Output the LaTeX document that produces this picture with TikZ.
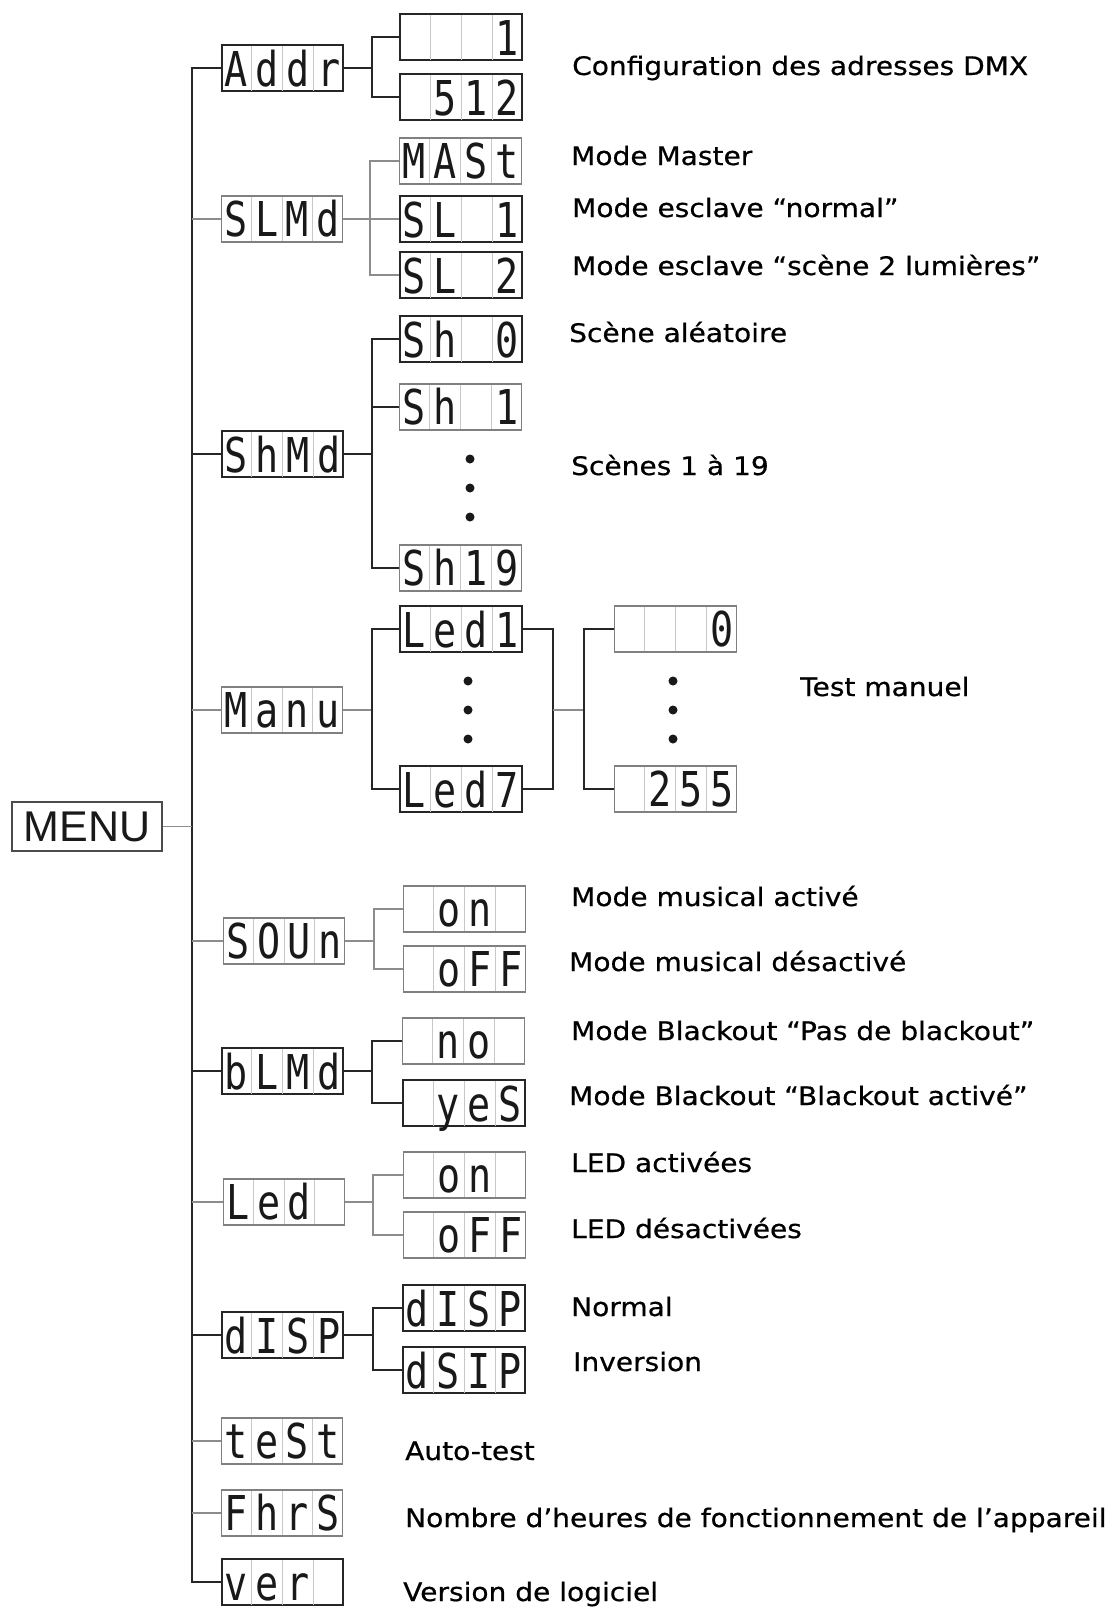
\documentclass[tikz,border=0pt]{standalone}
\usepackage{fontspec}
\newfontfamily\labfont[FakeStretch=1.10,FakeBold=0.6]{DejaVu Sans}
\newfontfamily\lcdfont[FakeStretch=0.8]{DejaVu Sans Mono}
\newfontfamily\menufont{Liberation Sans}
\usetikzlibrary{calc}
\newcommand{\mkdisp}[8]{%
  \node[lcdshape,#2] (#1) at (#3,#4) {};
  \foreach \k in {1,2,3}
    \draw[sepline] ($(#1.north west)!\k/4!(#1.north east)+(0,1.5)$) -- ($(#1.south west)!\k/4!(#1.south east)+(0,-1.5)$);
  \node[lcdtxt] at ($(#1.south west)!0.125!(#1.south east)+(0,-6)$) {#5};
  \node[lcdtxt] at ($(#1.south west)!0.375!(#1.south east)+(0,-6)$) {#6};
  \node[lcdtxt] at ($(#1.south west)!0.625!(#1.south east)+(0,-6)$) {#7};
  \node[lcdtxt] at ($(#1.south west)!0.875!(#1.south east)+(0,-6)$) {#8};
}
\begin{document}
\begin{tikzpicture}[x=1pt,y=-1pt,
  darkline/.style={line width=2.2pt, draw=black!85},
  lightline/.style={line width=1.3pt, draw=black!45},
  darkbox/.style={draw=black!85, line width=2pt},
  lightbox/.style={draw=black!50, line width=1.4pt},
  wone/.style={minimum width=121pt},
  wtwo/.style={minimum width=122pt},
  lcdshape/.style={rectangle, inner sep=0pt, minimum height=46pt, anchor=west},
  sepline/.style={line width=0.8pt, draw=black!22},
  lcdtxt/.style={anchor=base, inner sep=0pt, font=\lcdfont\fontsize{48}{48}\selectfont, text=black!90},
  lab/.style={anchor=base west, inner sep=0pt, font=\labfont\fontsize{25.5}{30}\selectfont, text=black},
  bigdot/.style={circle, fill=black!90, inner sep=0pt, minimum size=9pt}]

\useasboundingbox (0,0) rectangle (1107,1609);
\fill[white] (0,0) rectangle (1107,1609);

% MENU
\node[draw=black!70, line width=1.5pt, minimum width=150pt, minimum height=49pt, inner sep=0pt,
      font=\menufont\fontsize{43}{43}\selectfont, text=black!90] (menu) at (87,826.5) {MENU};

% level 1
\mkdisp{Addr}{darkbox,wone}{221}{68}{A}{d}{d}{r}
\mkdisp{SLMd}{lightbox,wone}{221}{219}{S}{L}{M}{d}
\mkdisp{ShMd}{darkbox,wone}{221}{454}{S}{h}{M}{d}
\mkdisp{Manu}{lightbox,wone}{221}{710}{M}{a}{n}{u}
\mkdisp{SOUn}{lightbox,wone}{223}{941}{S}{O}{U}{n}
\mkdisp{bLMd}{darkbox,wone}{221}{1071}{b}{L}{M}{d}
\mkdisp{Led}{lightbox,wone}{223}{1202}{L}{e}{d}{}
\mkdisp{dISP}{darkbox,wone}{221}{1335}{d}{I}{S}{P}
\mkdisp{tESt}{lightbox,wone}{221}{1441}{t}{e}{S}{t}
\mkdisp{FhrS}{lightbox,wone}{221}{1513}{F}{h}{r}{S}
\mkdisp{ver}{darkbox,wone}{221}{1582}{v}{e}{r}{}

% level 2
\mkdisp{A1}{darkbox,wtwo}{399}{37}{}{}{}{1}
\mkdisp{A512}{darkbox,wtwo}{399}{97}{}{5}{1}{2}
\mkdisp{MASt}{lightbox,wtwo}{399}{161}{M}{A}{S}{t}
\mkdisp{SL1}{darkbox,wtwo}{399}{219}{S}{L}{}{1}
\mkdisp{SL2}{darkbox,wtwo}{399}{275}{S}{L}{}{2}
\mkdisp{Sh0}{darkbox,wtwo}{399}{339}{S}{h}{}{0}
\mkdisp{Sh1}{lightbox,wtwo}{399}{407}{S}{h}{}{1}
\mkdisp{Sh19}{lightbox,wtwo}{399}{568}{S}{h}{1}{9}
\mkdisp{Led1}{darkbox,wtwo}{399}{629}{L}{e}{d}{1}
\mkdisp{Led7}{darkbox,wtwo}{399}{789}{L}{e}{d}{7}
\mkdisp{v0}{lightbox,wtwo}{614}{629}{}{}{}{0}
\mkdisp{v255}{lightbox,wtwo}{614}{789}{}{2}{5}{5}
\mkdisp{son}{lightbox,wtwo}{403}{909}{}{o}{n}{}
\mkdisp{soff}{lightbox,wtwo}{403}{969}{}{o}{F}{F}
\mkdisp{bno}{lightbox,wtwo}{402}{1041}{}{n}{o}{}
\mkdisp{byes}{darkbox,wtwo}{402}{1103}{}{y}{e}{S}
\mkdisp{lon}{lightbox,wtwo}{403}{1175}{}{o}{n}{}
\mkdisp{loff}{lightbox,wtwo}{403}{1235}{}{o}{F}{F}
\mkdisp{dnorm}{darkbox,wtwo}{402}{1308}{d}{I}{S}{P}
\mkdisp{dinv}{darkbox,wtwo}{402}{1370}{d}{S}{I}{P}

% trunk
\coordinate (tTop) at (192,68);
\coordinate (tBot) at (192,1582);
\draw[darkline] (Addr.west) -- (tTop) -- (tBot) -- (ver.west);
\draw[lightline] (menu.east) -- (menu.east -| tTop);
\foreach \n/\s in {SLMd/lightline, ShMd/darkline, Manu/lightline, SOUn/lightline,
                   bLMd/darkline, Led/lightline, dISP/darkline, tESt/lightline, FhrS/lightline}
  \draw[\s] (\n.west) -- (\n.west -| tTop);

% Addr
\coordinate (bAddr) at (372,68);
\draw[darkline] (Addr.east) -- (bAddr);
\draw[darkline] (A1.west) -| (bAddr) |- (A512.west);
% SLMd
\coordinate (bSL) at (370,219);
\draw[lightline] (SLMd.east) -- (bSL) -- (SL1.west);
\draw[lightline] (MASt.west) -| (bSL) |- (SL2.west);
% ShMd
\coordinate (bSh) at (372,454);
\draw[darkline] (ShMd.east) -- (bSh);
\draw[darkline] (Sh0.west) -| (bSh) |- (Sh19.west);
\draw[darkline] (Sh1.west) -- (Sh1.west -| bSh);
\node[bigdot] (d1) at (470,459) {};
\node[bigdot] (d2) at (470,488) {};
\node[bigdot] (d3) at (470,517) {};
% Manu
\coordinate (bM) at (372,710);
\coordinate (bR) at (553,710);
\coordinate (bV) at (584,710);
\draw[lightline] (Manu.east) -- (bM);
\draw[darkline] (Led1.west) -| (bM) |- (Led7.west);
\draw[darkline] (Led1.east) -| (bR) |- (Led7.east);
\draw[lightline] (bR) -- (bV);
\draw[darkline] (v0.west) -| (bV) |- (v255.west);
\node[bigdot] (d4) at (468,681) {};
\node[bigdot] (d5) at (468,710) {};
\node[bigdot] (d6) at (468,739) {};
\node[bigdot] (d7) at (673,681) {};
\node[bigdot] (d8) at (673,710) {};
\node[bigdot] (d9) at (673,739) {};
% SOUn
\coordinate (bS) at (374,941);
\draw[lightline] (SOUn.east) -- (bS);
\draw[lightline] (son.west) -| (bS) |- (soff.west);
% bLMd
\coordinate (bB) at (372,1071);
\draw[darkline] (bLMd.east) -- (bB);
\draw[darkline] (bno.west) -| (bB) |- (byes.west);
% Led
\coordinate (bL) at (373,1202);
\draw[lightline] (Led.east) -- (bL);
\draw[lightline] (lon.west) -| (bL) |- (loff.west);
% dISP
\coordinate (bD) at (373,1335);
\draw[darkline] (dISP.east) -- (bD);
\draw[darkline] (dnorm.west) -| (bD) |- (dinv.west);

% labels
\node[lab] (l1) at (572,75) {Configuration des adresses DMX};
\node[lab] (l2) at (571,165) {Mode Master};
\node[lab] (l3) at (572,217) {Mode esclave “normal”};
\node[lab] (l4) at (572,275) {Mode esclave “scène 2 lumières”};
\node[lab] (l5) at (569,342) {Scène aléatoire};
\node[lab] (l6) at (571,475) {Scènes 1 à 19};
\node[lab] (l7) at (800,696) {Test manuel};
\node[lab] (l8) at (571,906) {Mode musical activé};
\node[lab] (l9) at (569,971) {Mode musical désactivé};
\node[lab] (l10) at (571,1040) {Mode Blackout “Pas de blackout”};
\node[lab] (l11) at (569,1105) {Mode Blackout “Blackout activé”};
\node[lab] (l12) at (571,1172) {LED activées};
\node[lab] (l13) at (571,1238) {LED désactivées};
\node[lab] (l14) at (571,1316) {Normal};
\node[lab] (l15) at (573,1371) {Inversion};
\node[lab] (l16) at (405,1460) {Auto-test};
\node[lab] (l17) at (405,1527) {Nombre d’heures de fonctionnement de l’appareil};
\node[lab] (l18) at (403,1601) {Version de logiciel};
\end{tikzpicture}
\end{document}
